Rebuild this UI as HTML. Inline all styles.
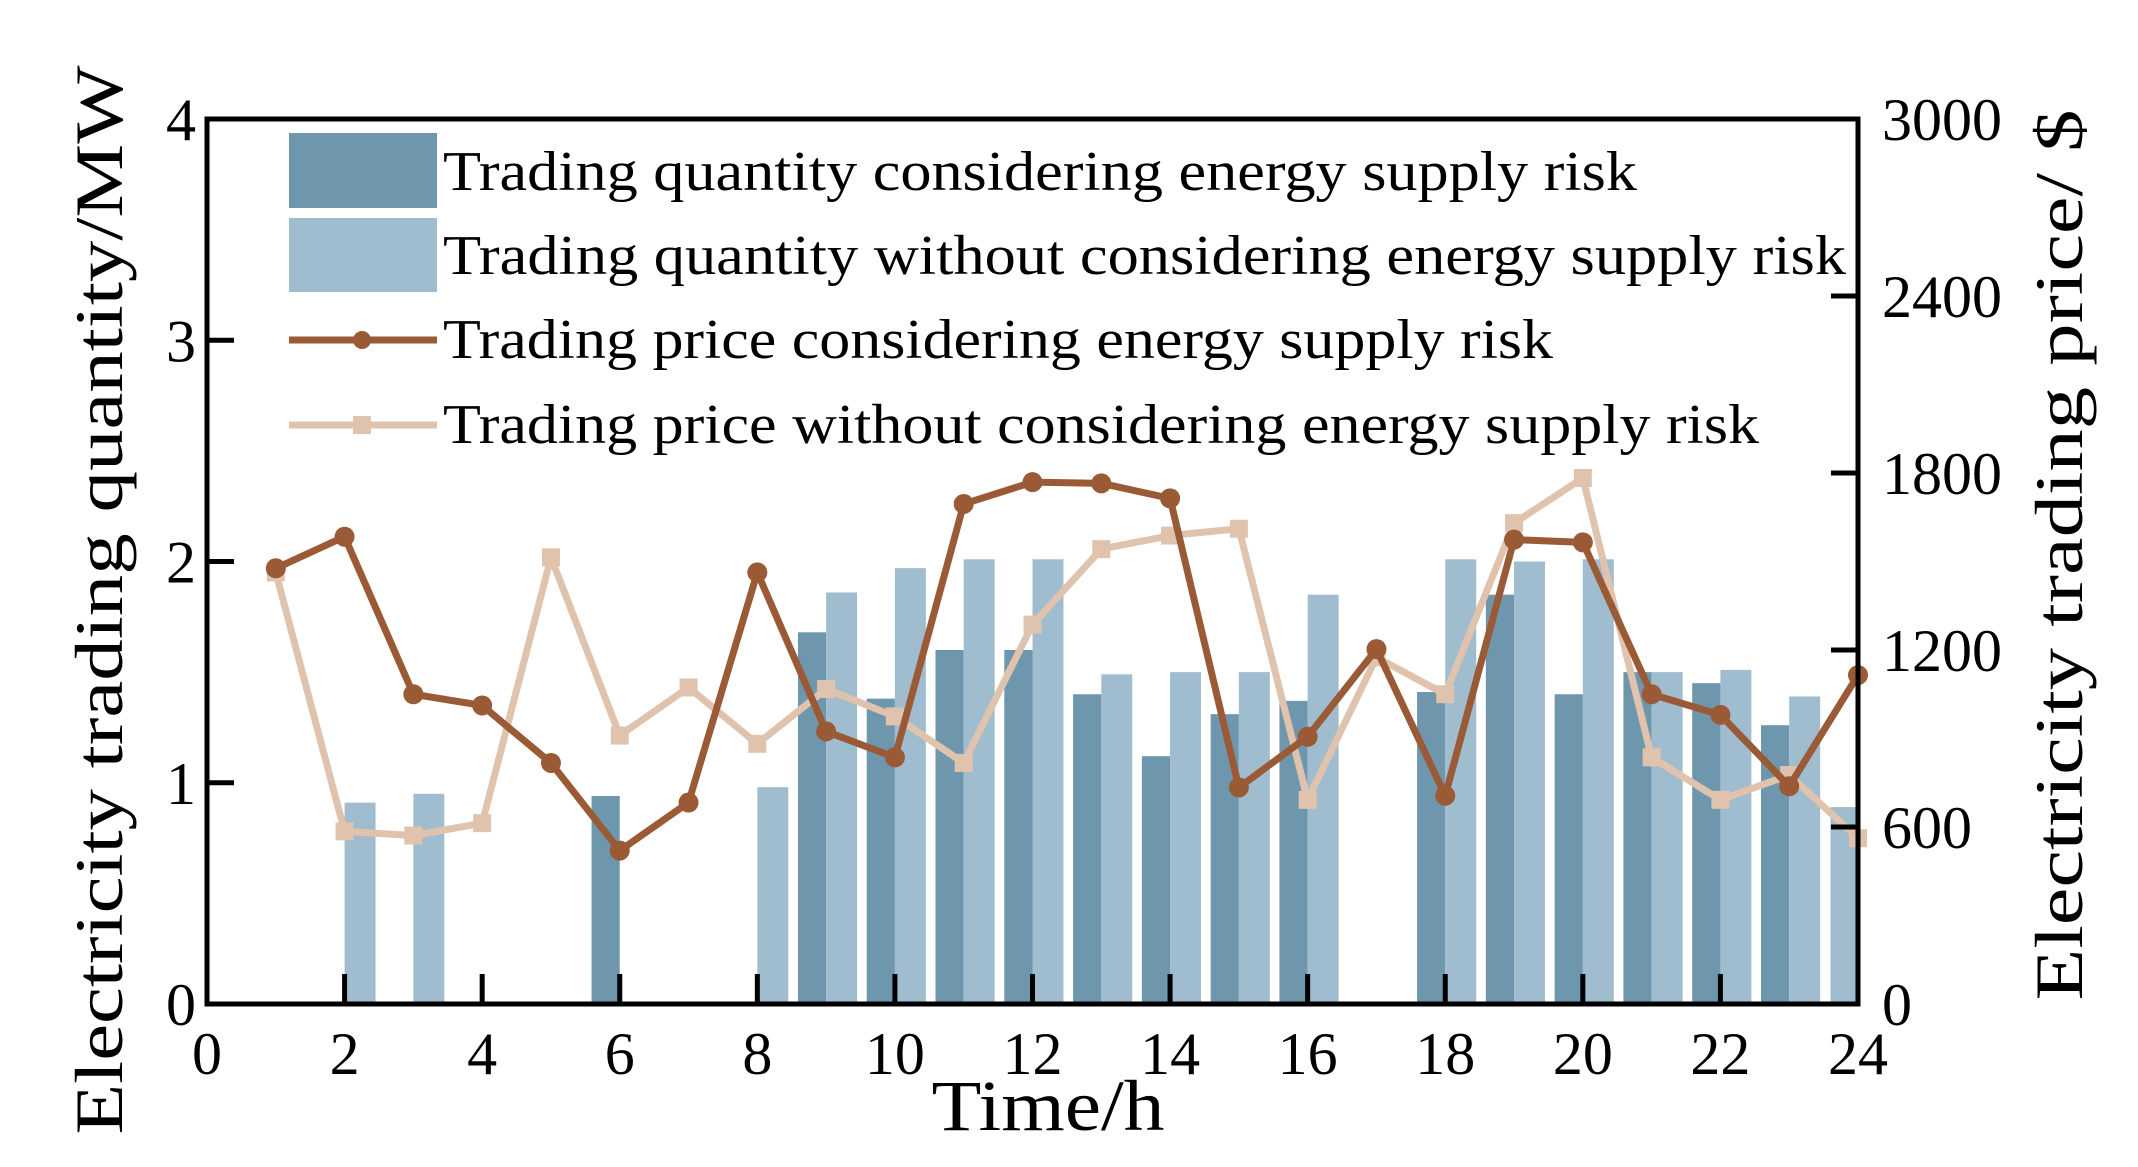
<!DOCTYPE html>
<html><head><meta charset="utf-8"><style>
html,body{margin:0;padding:0;background:#fff;}
svg{display:block;font-family:"Liberation Serif",serif;}
</style></head><body>
<svg id="chart" width="2138" height="1167" viewBox="0 0 2138 1167" xmlns="http://www.w3.org/2000/svg">
<g id="bars"></g>
<g id="lines"></g>
<g id="axes"></g>
<g id="legend">
  <rect x="289" y="133" width="148" height="75" fill="#6e97ae"/>
  <text x="443" y="190" font-size="56" textLength="1194" lengthAdjust="spacingAndGlyphs">Trading quantity considering energy supply risk</text>
  <rect x="289" y="218" width="148" height="74" fill="#a0bccf"/>
  <text x="443" y="274" font-size="56" textLength="1403" lengthAdjust="spacingAndGlyphs">Trading quantity without considering energy supply risk</text>
  <line x1="289" y1="340" x2="437" y2="340" stroke="#9a5a35" stroke-width="7"/>
  <circle cx="362" cy="340" r="9" fill="#9a5a35"/>
  <text x="443" y="358" font-size="56" textLength="1110" lengthAdjust="spacingAndGlyphs">Trading price considering energy supply risk</text>
  <line x1="289" y1="425" x2="437" y2="425" stroke="#e0c3ad" stroke-width="7"/>
  <rect x="353" y="416" width="18" height="18" fill="#e0c3ad"/>
  <text x="443" y="443" font-size="56" textLength="1316" lengthAdjust="spacingAndGlyphs">Trading price without considering energy supply risk</text>
</g>
<text transform="translate(122,600) rotate(-90)" text-anchor="middle" font-size="68" textLength="1069" lengthAdjust="spacingAndGlyphs">Electricity trading quantity/MW</text>
<text transform="translate(2082,555) rotate(-90)" text-anchor="middle" font-size="68" textLength="891" lengthAdjust="spacingAndGlyphs">Electricity trading price/ $</text>
<text x="1048" y="1130" text-anchor="middle" font-size="72" textLength="233" lengthAdjust="spacingAndGlyphs">Time/h</text>
</svg>
<script>
const hours = [1,2,3,4,5,6,7,8,9,10,11,12,13,14,15,16,17,18,19,20,21,22,23,24];
const qtyRisk   = [0,0,0,0,0,0.94,0,0,1.68,1.38,1.60,1.60,1.40,1.12,1.31,1.37,0,1.41,1.85,1.40,1.50,1.45,1.26,0];
const qtyNoRisk = [0,0.91,0.95,0,0,0,0,0.98,1.86,1.97,2.01,2.01,1.49,1.50,1.50,1.85,0,2.01,2.00,2.01,1.50,1.51,1.39,0.89];
const priceRisk   = [1477,1584,1050,1012,817,520,683,1463,924,836,1695,1769,1765,1714,734,906,1203,706,1574,1565,1050,980,738,1115];
const priceNoRisk = [1463,585,571,613,1514,910,1073,882,1068,975,817,1286,1542,1588,1611,692,1175,1050,1630,1783,836,692,776,562];
const xTicks = [0,2,4,6,8,10,12,14,16,18,20,22,24];
const yLeftTicks = [0,1,2,3,4];
const yRightTicks = [0,600,1200,1800,2400,3000];

const L=207, R=1858, T=119, B=1004;
const xs = h => L + h*(R-L)/24;
const yl = v => B - v*(B-T)/4;
const yr = v => B - v*(B-T)/3000;
const NS='http://www.w3.org/2000/svg';
function mk(tag, attrs, parent){const e=document.createElementNS(NS,tag);for(const k in attrs)e.setAttribute(k,attrs[k]);parent.appendChild(e);return e;}
const bars=document.getElementById('bars'), lines=document.getElementById('lines'), axes=document.getElementById('axes');
const hw=(R-L)/24;
hours.forEach((h,i)=>{
  if(qtyRisk[i]>0){
    const r=mk('rect',{x:xs(h)-0.41*hw,y:yl(qtyRisk[i]),width:0.41*hw,height:B-yl(qtyRisk[i]),fill:'#6e97ae'},bars);
    
    
  }
  if(qtyNoRisk[i]>0){
    let x0=xs(h); if(x0+0.45*hw>R+1) x0=xs(h)-0.4*hw;
    const w=Math.min(0.45*hw,R-x0);
    const r=mk('rect',{x:x0,y:yl(qtyNoRisk[i]),width:w,height:B-yl(qtyNoRisk[i]),fill:'#a0bccf'},bars);
    
    
  }
});
function series(vals,color,marker,name){
  const pts=hours.map((h,i)=>xs(h)+','+yr(vals[i])).join(' ');
  const p=mk('polyline',{points:pts,fill:'none',stroke:color,'stroke-width':7,'stroke-linejoin':'round'},lines);
  
  
  hours.forEach((h,i)=>{
    let m;
    if(marker==='c') m=mk('circle',{cx:xs(h),cy:yr(vals[i]),r:10,fill:color},lines);
    else m=mk('rect',{x:xs(h)-9,y:yr(vals[i])-9,width:18,height:18,fill:color},lines);
    
    
  });
}
series(priceNoRisk,'#e0c3ad','s','price-no-risk');
series(priceRisk,'#9a5a35','c','price-risk');
const f=mk('rect',{x:L,y:T,width:R-L,height:B-T,fill:'none',stroke:'#000','stroke-width':5},axes);


xTicks.forEach(t=>{
  if(t>0&&t<24){const k=mk('line',{x1:xs(t),y1:B,x2:xs(t),y2:B-30,stroke:'#000','stroke-width':5},axes);
  
  }
  const lb=mk('text',{x:xs(t),y:1074,'text-anchor':'middle','font-size':60},axes);
  lb.textContent=t;
  
  
});
yLeftTicks.forEach(t=>{
  if(t>0&&t<4){const k=mk('line',{x1:L,y1:yl(t),x2:L+27,y2:yl(t),stroke:'#000','stroke-width':5},axes);
  
  }
  const lb=mk('text',{x:196,y:yl(t)+21,'text-anchor':'end','font-size':60},axes);
  lb.textContent=t;
  
  
});
yRightTicks.forEach(t=>{
  if(t>0&&t<3000){const k=mk('line',{x1:R,y1:yr(t),x2:R-27,y2:yr(t),stroke:'#000','stroke-width':5},axes);
  
  }
  const lb=mk('text',{x:1882,y:yr(t)+21,'text-anchor':'start','font-size':60},axes);
  lb.textContent=t;
  
  
});
</script>
</body></html>
